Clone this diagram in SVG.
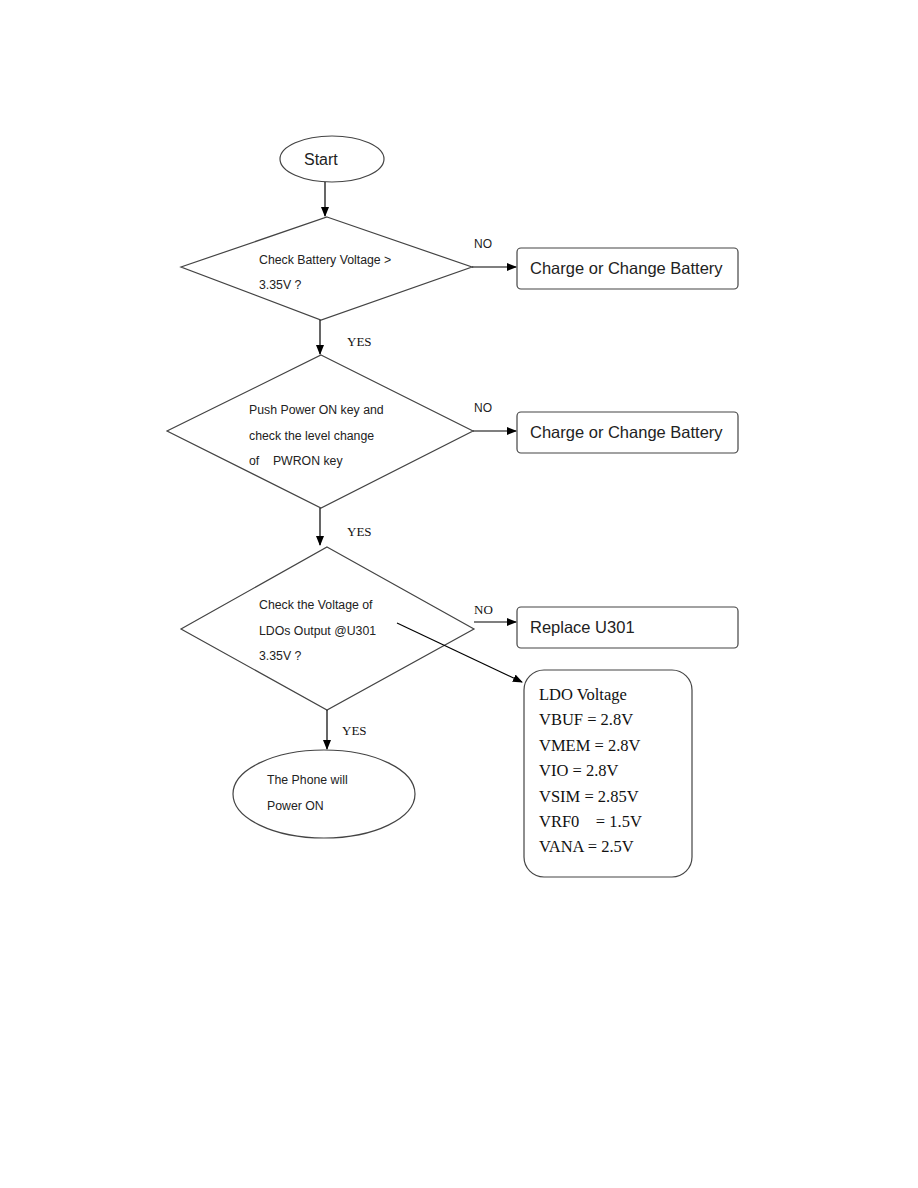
<svg xmlns="http://www.w3.org/2000/svg" width="918" height="1188" viewBox="0 0 918 1188">
<defs>
<marker id="ah" markerWidth="10" markerHeight="8" refX="9" refY="4" orient="auto" markerUnits="userSpaceOnUse">
<path d="M0,0 L10,4 L0,8 Z" fill="#000"/>
</marker>
<style>
.shape{fill:#fff;stroke:#444;stroke-width:1.2}
.conn{stroke:#000;stroke-width:1.2;fill:none;marker-end:url(#ah)}
.s{font-family:"Liberation Sans",Arial,sans-serif;fill:#222}
.sm{font-size:12.3px}
.lg{font-size:16.5px}
.t{font-family:"Liberation Serif","Times New Roman",serif;fill:#111}
</style>
</defs>
<rect width="918" height="1188" fill="#fff"/>

<g id="start">
<ellipse class="shape" cx="332" cy="159" rx="52" ry="23"/>
<text class="s" x="304" y="165" font-size="16">Start</text>
</g>

<g id="check-battery">
<polygon class="shape" points="327,217 472,267 321,320 181,267"/>
<text class="s sm" x="259" y="264">Check Battery Voltage &gt;</text>
<text class="s sm" x="259" y="289">3.35V ?</text>
</g>

<g id="charge1">
<rect class="shape" x="517" y="248" width="221" height="41" rx="4"/>
<text class="s lg" x="530" y="274">Charge or Change Battery</text>
</g>

<g id="push-power">
<polygon class="shape" points="321,355 473,431 321,508 167,431"/>
<text class="s sm" x="249" y="414">Push Power ON key and</text>
<text class="s sm" x="249" y="440">check the level change</text>
<text class="s sm" x="249" y="465" xml:space="preserve">of    PWRON key</text>
</g>

<g id="charge2">
<rect class="shape" x="517" y="412" width="221" height="41" rx="4"/>
<text class="s lg" x="530" y="438">Charge or Change Battery</text>
</g>

<g id="check-ldo">
<polygon class="shape" points="327,547 474,629 327,710 181,629"/>
<text class="s sm" x="259" y="609">Check the Voltage of</text>
<text class="s sm" x="259" y="635">LDOs Output @U301</text>
<text class="s sm" x="259" y="660">3.35V ?</text>
</g>

<g id="replace">
<rect class="shape" x="517" y="607" width="221" height="41" rx="4"/>
<text class="s lg" x="530" y="633">Replace U301</text>
</g>

<g id="ldo-voltage">
<rect class="shape" x="524" y="670" width="168" height="207" rx="20"/>
<text class="t" font-size="16.5" x="539" y="700">LDO Voltage</text>
<text class="t" font-size="16.5" x="539" y="725">VBUF = 2.8V</text>
<text class="t" font-size="16.5" x="539" y="751">VMEM = 2.8V</text>
<text class="t" font-size="16.5" x="539" y="776">VIO = 2.8V</text>
<text class="t" font-size="16.5" x="539" y="802">VSIM = 2.85V</text>
<text class="t" font-size="16.5" x="539" y="827" xml:space="preserve">VRF0    = 1.5V</text>
<text class="t" font-size="16.5" x="539" y="852">VANA = 2.5V</text>
</g>

<g id="power-on">
<ellipse class="shape" cx="324" cy="794" rx="91" ry="44"/>
<text class="s sm" x="267" y="784">The Phone will</text>
<text class="s sm" x="267" y="810">Power ON</text>
</g>

<g id="connectors">
<line class="conn" x1="325" y1="182" x2="325" y2="216"/>
<line class="conn" x1="472" y1="267" x2="516" y2="267"/>
<line class="conn" x1="320" y1="320" x2="320" y2="354"/>
<line class="conn" x1="473" y1="431" x2="516" y2="431"/>
<line class="conn" x1="320" y1="508" x2="320" y2="545"/>
<line class="conn" x1="474" y1="622" x2="516" y2="622"/>
<line class="conn" x1="397" y1="623" x2="522" y2="682"/>
<line class="conn" x1="327" y1="710" x2="327" y2="749"/>
<text class="s" x="474" y="248" font-size="12">NO</text>
<text class="t" x="347" y="346" font-size="13">YES</text>
<text class="s" x="474" y="412" font-size="12">NO</text>
<text class="t" x="347" y="536" font-size="13">YES</text>
<text class="t" x="474" y="614" font-size="13">NO</text>
<text class="t" x="342" y="735" font-size="13">YES</text>
</g>
</svg>
